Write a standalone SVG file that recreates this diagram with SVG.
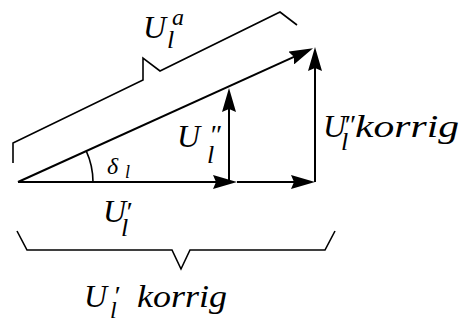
<svg xmlns="http://www.w3.org/2000/svg" width="464" height="322" viewBox="0 0 464 322">
<style>
.ln{stroke:#000;stroke-width:2;fill:none}
.br{stroke:#000;stroke-width:1.6;fill:none;stroke-linejoin:miter}
</style>
<defs>
<marker id="ah" viewBox="0 0 24 14" refX="20" refY="7" markerWidth="24" markerHeight="14" markerUnits="userSpaceOnUse" orient="auto">
<path d="M0,0 L24,7 L0,14 L3,7 Z" fill="#000"/>
</marker>
</defs>
<rect width="464" height="322" fill="#fff"/>
<g id="connectors">
<line class="ln" x1="18" y1="182" x2="309.4" y2="49.8" marker-end="url(#ah)"/>
<line class="ln" x1="18" y1="182" x2="233" y2="182" marker-end="url(#ah)"/>
<line class="ln" x1="237" y1="182" x2="311" y2="182" marker-end="url(#ah)"/>
<line class="ln" x1="229" y1="182" x2="229" y2="92" marker-end="url(#ah)"/>
<line class="ln" x1="315" y1="182" x2="315" y2="51" marker-end="url(#ah)"/>
<path class="br" d="M93,182 A75,75 0 0 0 86.3,151.1"/>
<polyline class="br" points="13,163 13,143 143,80 143,58 160,71 280,12 297,25"/>
<polyline class="br" points="17,231 27,250 172,250 181,269 190,250 325,250 335,231"/>
</g>
<g id="label-Ua">
<text font-family="Liberation Serif" font-style="italic" font-size="32" x="143" y="38">U<tspan font-size="24" x="172" y="25">a</tspan><tspan font-size="26" x="167" y="48">l</tspan></text>
</g>
<g id="label-U2">
<text font-family="Liberation Serif" font-style="italic" font-size="32" x="177" y="147">U<tspan font-size="26" x="207" y="163">l</tspan><tspan font-size="28" x="209" y="144">″</tspan></text>
</g>
<g id="label-U2korrig">
<text font-family="Liberation Serif" font-style="italic" font-size="32" x="323" y="137">U<tspan font-size="26" x="341" y="150">l</tspan><tspan font-size="28" x="343" y="134">″</tspan><tspan x="355" y="137" textLength="104" lengthAdjust="spacingAndGlyphs">korrig</tspan></text>
</g>
<g id="label-delta">
<text font-family="Liberation Serif" font-style="italic" font-size="24" x="107" y="174">δ<tspan font-size="18" x="125" y="178">l</tspan></text>
</g>
<g id="label-U1">
<text font-family="Liberation Serif" font-style="italic" font-size="32" x="103" y="222">U<tspan font-size="26" x="121" y="236">l</tspan><tspan font-size="28" x="125" y="221">′</tspan></text>
</g>
<g id="label-U1korrig">
<text font-family="Liberation Serif" font-style="italic" font-size="32" x="84" y="307">U<tspan font-size="24" x="110" y="318">l</tspan><tspan font-size="28" x="113" y="305">′</tspan><tspan x="137" y="307" textLength="90" lengthAdjust="spacingAndGlyphs">korrig</tspan></text>
</g>
</svg>
